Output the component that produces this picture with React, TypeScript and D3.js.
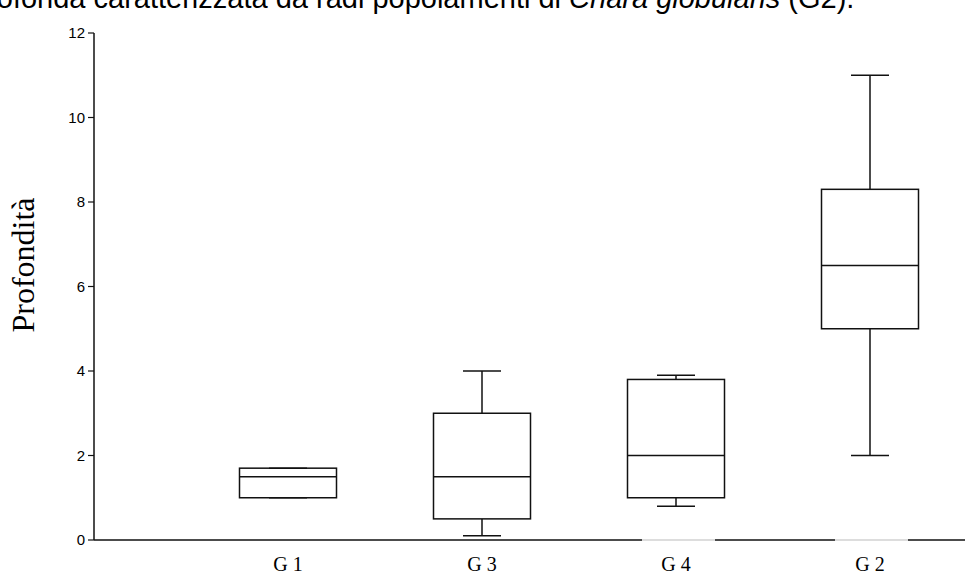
import React from "react";
import * as d3 from "d3";

const categories = ["G 1", "G 3", "G 4", "G 2"];
const mins = [1.0, 0.1, 0.8, 2.0];
const q1s = [1.0, 0.5, 1.0, 5.0];
const medians = [1.5, 1.5, 2.0, 6.5];
const q3s = [1.7, 3.0, 3.8, 8.3];
const maxs = [1.7, 4.0, 3.9, 11.0];
const yTicks = [0, 2, 4, 6, 8, 10, 12];

export default function App() {
  const W = 976, H = 574;
  const y = d3.scaleLinear().domain([0, 12]).range([540, 33]);
  const x = d3.scaleBand<string>().domain(categories).range([191, 967]);
  const bw = x.bandwidth() * 0.5;
  const capW = 38;
  const axisX = 94;
  const stroke = "#111";
  const grayGaps = [[642, 715], [835, 908]];
  return (
    <svg width={W} height={H} style={{ position: "absolute", left: 0, top: 0, background: "#fff" }}>
      <text x={-29} y={8} fontFamily="'Liberation Sans', Arial, sans-serif" fontSize={29} fill="#000">
        profonda caratterizzata da radi popolamenti di <tspan fontStyle="italic">Chara globularis</tspan> (G2).
      </text>
      {/* y axis */}
      <line x1={axisX} x2={axisX} y1={y(12)} y2={y(0)} stroke={stroke} strokeWidth={1.5} />
      {yTicks.map((t) => (
        <g key={t}>
          <line x1={axisX - 6} x2={axisX} y1={y(t)} y2={y(t)} stroke={stroke} strokeWidth={1.2} />
          <text x={axisX - 9} y={y(t)} dy="0.36em" textAnchor="end" fontFamily="'Liberation Sans', Arial, sans-serif" fontSize={15} fill="#000">
            {t}
          </text>
        </g>
      ))}
      {/* x axis */}
      <line x1={axisX} x2={965} y1={y(0)} y2={y(0)} stroke={stroke} strokeWidth={1.5} />
      {grayGaps.map(([a, b], i) => (
        <line key={i} x1={a} x2={b} y1={y(0)} y2={y(0)} stroke="#fff" strokeWidth={2} />
      ))}
      {grayGaps.map(([a, b], i) => (
        <line key={"g" + i} x1={a} x2={b} y1={y(0)} y2={y(0)} stroke="#bbb" strokeWidth={1} />
      ))}
      {categories.map((c, i) => {
        const cx = (x(c) as number) + x.bandwidth() / 2;
        return (
          <g key={c}>
            <text x={cx} y={571} textAnchor="middle" fontFamily="'Liberation Serif', 'Times New Roman', serif" fontSize={20} fill="#000">
              {c}
            </text>
            <line x1={cx} x2={cx} y1={y(maxs[i])} y2={y(q3s[i])} stroke={stroke} strokeWidth={1.5} />
            <line x1={cx} x2={cx} y1={y(q1s[i])} y2={y(mins[i])} stroke={stroke} strokeWidth={1.5} />
            <line x1={cx - capW / 2} x2={cx + capW / 2} y1={y(maxs[i])} y2={y(maxs[i])} stroke={stroke} strokeWidth={1.5} />
            <line x1={cx - capW / 2} x2={cx + capW / 2} y1={y(mins[i])} y2={y(mins[i])} stroke={stroke} strokeWidth={1.5} />
            <rect x={cx - bw / 2} y={y(q3s[i])} width={bw} height={y(q1s[i]) - y(q3s[i])} fill="none" stroke={stroke} strokeWidth={1.5} />
            <line x1={cx - bw / 2} x2={cx + bw / 2} y1={y(medians[i])} y2={y(medians[i])} stroke={stroke} strokeWidth={1.5} />
          </g>
        );
      })}
      <text transform={`translate(34,265) rotate(-90)`} textAnchor="middle" fontFamily="'Liberation Serif', 'Times New Roman', serif" fontSize={32} fill="#000">
        Profondità
      </text>
    </svg>
  );
}
